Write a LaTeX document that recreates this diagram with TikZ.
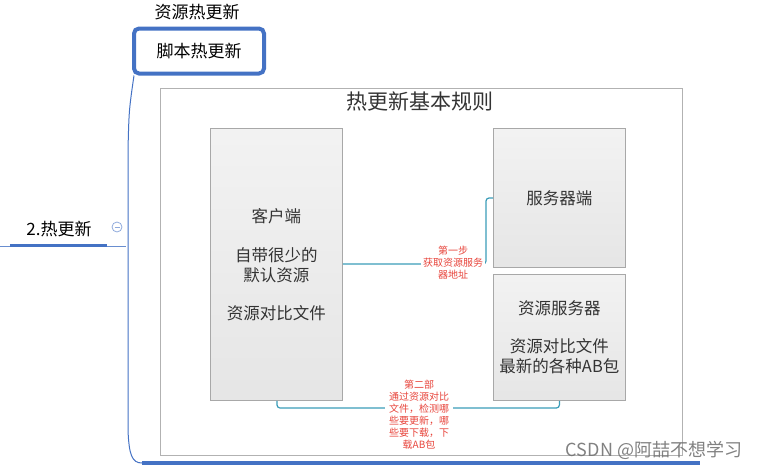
\documentclass[tikz,border=0pt]{standalone}
\usepackage{fontspec}
\setmainfont{Noto Sans CJK SC}
\usetikzlibrary{calc}
\definecolor{mmblue}{HTML}{4472C4}
\definecolor{linkteal}{HTML}{3B9CB8}
\definecolor{boxborder}{HTML}{A8A8A8}
\definecolor{labelred}{HTML}{E8453C}
\tikzset{
  greybox/.style={draw=boxborder, line width=0.8pt, top color=black!5, bottom color=black!10, minimum width=132pt, align=center, font=\fontsize{16.5}{20}\selectfont, text=black!80},
  steplabel/.style={fill=white, inner sep=1pt, align=center, text=labelred, font=\fontsize{10}{12}\selectfont},
  teal/.style={draw=linkteal, line width=1.2pt, rounded corners=3pt},
  branch/.style={draw=mmblue, line width=1pt},
}
\begin{document}
\begin{tikzpicture}[x=1pt,y=-1pt]
\useasboundingbox (0,0) rectangle (763,469);
% mind map branch
\node (top) at (197,12) {\fontsize{17}{20}\selectfont 资源热更新};
\node[draw=mmblue, line width=4pt, rounded corners=5pt, minimum width=130pt, minimum height=45pt, font=\fontsize{17}{20}\selectfont] (script) at (199,51) {脚本热更新};
\node (hot) at (59,229) {\fontsize{17}{20}\selectfont 2.热更新};
\coordinate (hl) at (0,246);
\coordinate (hr) at (126,246);
\draw[mmblue!80, line width=0.8pt] (hl) -- (hr);
\draw[mmblue, line width=3pt] (10,245) -- (107,245);
\node[draw=mmblue!60, circle, line width=0.8pt, minimum size=10pt, inner sep=0pt] (minus) at (117,227) {};
\draw[mmblue!60, line width=0.8pt] ($(minus)+(-2.5,0)$) -- ($(minus)+(2.5,0)$);
\coordinate (bend) at (142,463);
\draw[branch] (script.south west) ++(2,0) .. controls (129,110) .. (128,150) -- (128,430) .. controls (129,455) and (132,463) .. (bend);
\draw[mmblue, line width=4pt] (bend) -- (700,463);
% main frame
\node[draw=black!30, line width=0.8pt, minimum width=522pt, minimum height=367pt, anchor=north west] (frame) at (160,88) {};
\node[font=\fontsize{21}{24}\selectfont, text=black!80] (title) at (420,102) {热更新基本规则};
\node[greybox, minimum height=272pt, anchor=north west] (client) at (210,128) {客户端\\[19pt]自带很少的\\默认资源\\[18pt]资源对比文件};
\node[greybox, minimum height=139pt, anchor=north west] (server) at (493,128) {服务器端};
\node[greybox, minimum height=126pt, anchor=north west] (res) at (493,274) {资源服务器\\[18pt]资源对比文件\\最新的各种AB包};
% connectors
\coordinate (c1) at (486,264);
\draw[teal] (client.east |- c1) -- (c1) -- (486,198) -- (server.west |- 0,198);
\node[steplabel, minimum width=64pt] (l1) at (453,263) {第一步\\获取资源服务\\器地址};
\coordinate (c2a) at (277,408);
\draw[teal] (client.south -| c2a) -- (c2a) -- (res.south |- c2a) -- (res.south);
\node[steplabel, minimum width=68pt] (l2) at (419,415) {第二部\\通过资源对比\\文件，检测哪\\些要更新，哪\\些要下载，下\\载AB包};
% watermark
\node[text=black!55, font=\fontsize{18}{20}\selectfont, opacity=0.9] (wm) at (654,450) {CSDN @阿喆不想学习};
\end{tikzpicture}
\end{document}
